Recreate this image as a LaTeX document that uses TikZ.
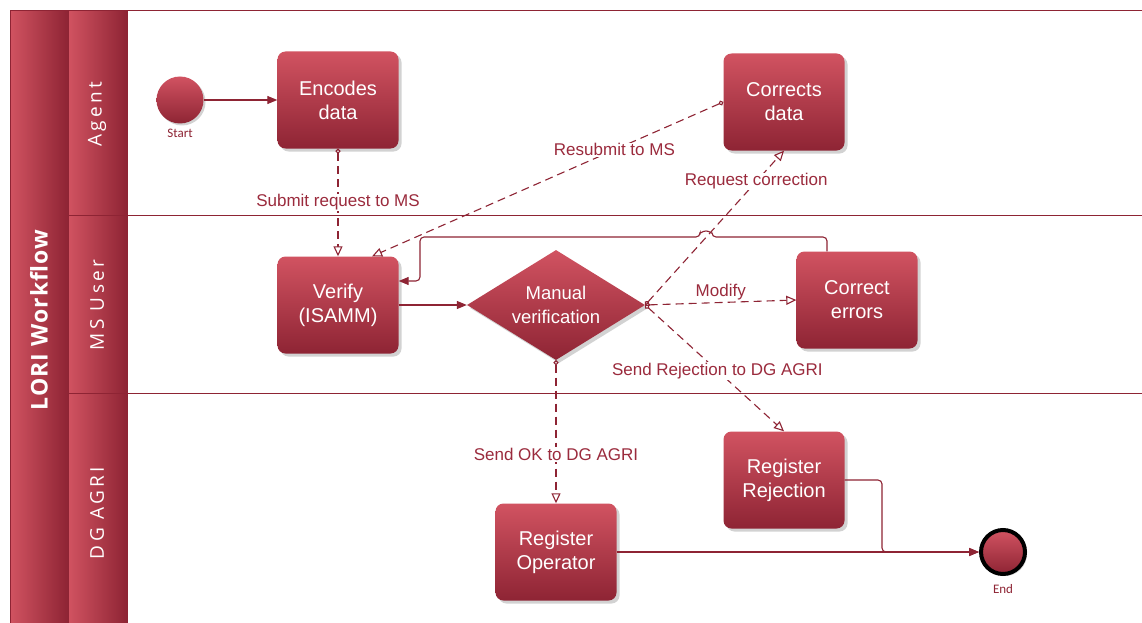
\documentclass[tikz,border=0pt]{standalone}
\usepackage{fontspec}
\setmainfont{Liberation Sans}
\newfontfamily\lanefont[LetterSpace=18]{Open Sans}
\newfontfamily\poolfont[LetterSpace=5]{Open Sans}
\newfontfamily\evfont{Carlito}
\usetikzlibrary{shapes.geometric, arrows.meta, positioning, calc, shadows}
\definecolor{wine}{HTML}{8E2434}
\definecolor{rosy}{HTML}{D15361}
\definecolor{labelred}{HTML}{9B2B3D}
\tikzstyle{task} = [rectangle, rounded corners=8pt, top color=rosy, bottom color=wine, text=white, align=center, minimum width=121pt, minimum height=97pt, font=\fontsize{20}{24}\selectfont, drop shadow={shadow xshift=3pt, shadow yshift=-3pt, opacity=0.35}]
\tikzstyle{gate} = [diamond, aspect=1.62, minimum width=178pt, minimum height=110pt, inner sep=0pt, top color=rosy, bottom color=wine, text=white, align=center, font=\fontsize{18.5}{24}\selectfont, drop shadow={shadow xshift=3pt, shadow yshift=-3pt, opacity=0.35}]
\tikzstyle{event} = [circle, minimum size=47pt, inner sep=0pt, top color=rosy, bottom color=wine, drop shadow={shadow xshift=2pt, shadow yshift=-2pt, opacity=0.35}]
\tikzstyle{evlabel} = [font=\evfont\fontsize{13}{15}\selectfont, text=wine]
\tikzstyle{lbl} = [fill=white, text=labelred, font=\fontsize{17}{20}\selectfont, inner sep=1pt]
\tikzstyle{flow} = [draw=wine, line width=1.1pt, -{Triangle[length=10pt, width=8pt]}]
\tikzstyle{msg} = [draw=wine, line width=1.1pt, dash pattern=on 8pt off 5pt, {Circle[open, length=5pt, width=5pt, fill=white]}-{Triangle[open, length=10pt, width=9pt, fill=white]}]
\tikzstyle{lane} = [draw=wine, line width=1pt]
\tikzstyle{lanetitle} = [rotate=90, text=white, font=\lanefont\fontsize{19}{22}\selectfont]
\tikzstyle{pooltitle} = [rotate=90, text=white, font=\poolfont\bfseries\fontsize{23}{26}\selectfont]

\begin{document}
\begin{tikzpicture}[x=1pt, y=-1pt]
    \useasboundingbox[fill=white] (0,0) rectangle (1142,623);

    % Pool and lane headers
    \shade[left color=rosy, right color=wine] (10,11) rectangle (68,623);
    \shade[left color=rosy, right color=wine] (68,11) rectangle (127,215);
    \shade[left color=rosy, right color=wine] (68,215) rectangle (127,393);
    \shade[left color=rosy, right color=wine] (68,393) rectangle (127,623);
    \draw[lane] (10,623) -- (10,11) -- (1142,11);
    \draw[lane] (68,11) -- (68,623);
    \draw[lane] (127,11) -- (127,623);
    \draw[lane] (68,215) -- (1142,215);
    \draw[lane] (68,393) -- (1142,393);

    \node[pooltitle] (pool) at (39,320) {LORI Workflow};
    \node[lanetitle] (agent) at (97,114) {Agent};
    \node[lanetitle] (msuser) at (97,305) {MS User};
    \node[lanetitle] (dgagri) at (97,513) {DG AGRI};

    % Agent lane
    \node[event, label={[evlabel, label distance=2pt]below:Start}] (start) at (180,100) {};
    \node[task] (encode) at (338,100) {Encodes\\data};
    \node[task] (cdata) at (784,102) {Corrects\\data};

    % MS User lane
    \node[task] (verify) at (338,305) {Verify\\(ISAMM)};
    \node[gate] (manual) at (556,305) {Manual\\verification};
    \node[task] (cerr) at (857,300) {Correct\\errors};

    % DG AGRI lane
    \node[task] (rrej) at (784,480) {Register\\Rejection};
    \node[task] (regop) at (556,552) {Register\\Operator};
    \node[event, draw=black, line width=4pt, minimum size=44pt, label={[evlabel, label distance=5pt]below:End}] (end) at (1003,552) {};

    % Sequence flows
    \draw[flow] (start) -- (encode);
    \draw[flow] (verify.east) -- (manual.west);
    \coordinate (hopR) at (712,237);
    \coordinate (hopL) at (700,237);
    \draw[flow, rounded corners=4pt] ($(cerr.north)+(-30,0)$) |- (hopR) arc[start angle=0, end angle=180, radius=6pt] -- (hopL) -- (420,237) |- ($(verify.east)+(0,-24)$);
    \draw[flow, rounded corners=4pt] (rrej.east) -| ($(end.west)+(-97,0)$) -- (end.west);
    \draw[flow] (regop.east) -- (end.west);

    % Message flows
    \draw[msg] (encode) -- node[lbl] {Submit request to MS} (verify);
    \draw[msg] (cdata.west) -- node[lbl, pos=0.31] {Resubmit to MS} (verify.55);
    \draw[msg] (manual.east) -- node[lbl, pos=0.8] {Request correction} (cdata.south);
    \draw[msg] (manual.east) -- node[lbl, above=1pt, fill=none] {Modify} (cerr.west);
    \draw[msg] (manual.east) -- node[lbl, pos=0.52] {Send Rejection to DG AGRI} (rrej.north);
    \draw[msg] (manual.south) -- node[lbl, pos=0.66] {Send OK to DG AGRI} (regop.north);
\end{tikzpicture}
\end{document}
